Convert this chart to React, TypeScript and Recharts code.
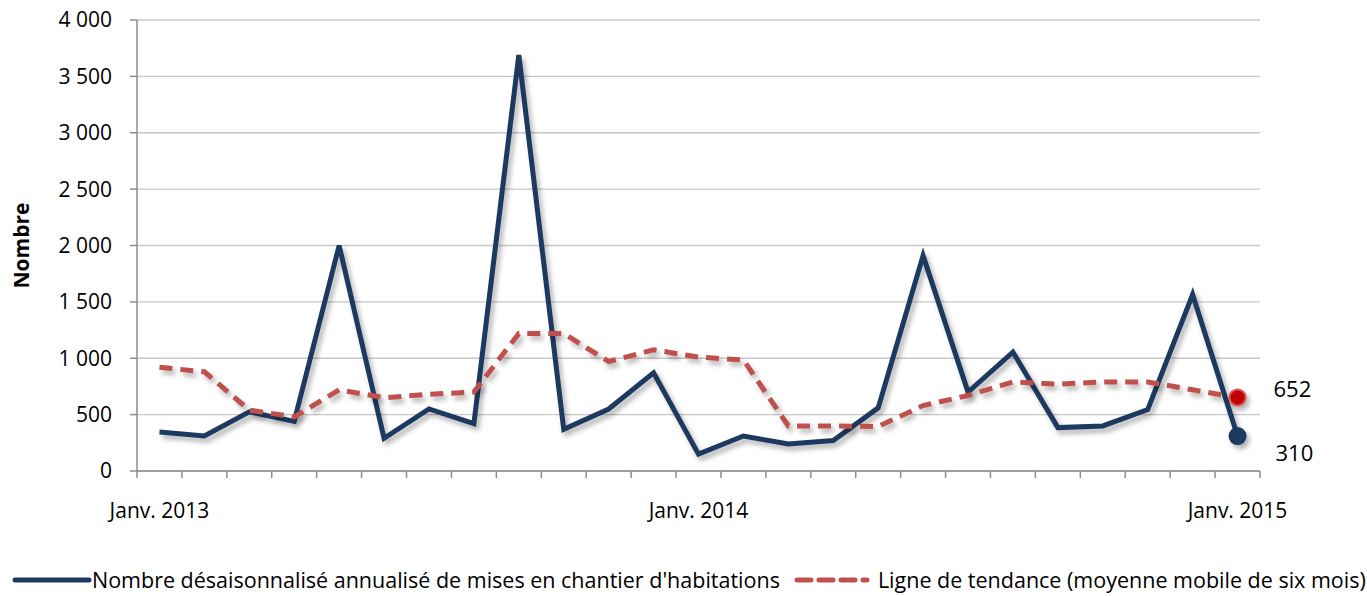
import React from 'react';
import {
  LineChart,
  Line,
  XAxis,
  YAxis,
  CartesianGrid,
  Legend,
} from 'recharts';

const months = [
  'Janv. 2013', 'Févr. 2013', 'Mars 2013', 'Avr. 2013', 'Mai 2013', 'Juin 2013',
  'Juil. 2013', 'Août 2013', 'Sept. 2013', 'Oct. 2013', 'Nov. 2013', 'Déc. 2013',
  'Janv. 2014', 'Févr. 2014', 'Mars 2014', 'Avr. 2014', 'Mai 2014', 'Juin 2014',
  'Juil. 2014', 'Août 2014', 'Sept. 2014', 'Oct. 2014', 'Nov. 2014', 'Déc. 2014',
  'Janv. 2015',
];

const mises = [
  346, 310, 525, 440, 2000, 290, 550, 420, 3690, 370, 550, 870,
  150, 310, 240, 270, 560, 1910, 700, 1055, 385, 400, 545, 1565,
  310,
];

const tendance = [
  920, 880, 540, 480, 720, 650, 680, 700, 1220, 1220, 970, 1075,
  1010, 985, 400, 400, 395, 580, 670, 790, 770, 790, 790, 720,
  652,
];

const yTicks = [0, 500, 1000, 1500, 2000, 2500, 3000, 3500, 4000];

const data = months.map((m, i) => ({ mois: m, mises: mises[i], tendance: tendance[i] }));

const BLUE = '#1d3960';
const RED = '#c0504d';
const AXIS = '#8c8c8c';
const FONT = '"Open Sans", sans-serif';
const SHADOW = 'drop-shadow(3px 4px 2.5px rgba(0,0,0,0.3))';

const W = 1367;
const H = 596;
const LEFT = 137;
const RIGHT = 107;
const BAND = (W - LEFT - RIGHT) / months.length;
const LAST = months.length - 1;

const fmt = (v: number) => String(v).replace(/\B(?=(\d{3})+(?!\d))/g, ' ');

const XTick = (props: any) => {
  const { x, y, payload, index } = props;
  const label = String(payload.value);
  return (
    <g>
      <line x1={x - BAND / 2} x2={x - BAND / 2} y1={y} y2={y + 7} stroke={AXIS} strokeWidth={1.5} />
      {index === LAST && (
        <line x1={x + BAND / 2} x2={x + BAND / 2} y1={y} y2={y + 7} stroke={AXIS} strokeWidth={1.5} />
      )}
      {label.startsWith('Janv.') && (
        <text x={x} y={y + 47} textAnchor="middle" fontSize={21} fill="#000" fontFamily={FONT}>
          {label}
        </text>
      )}
    </g>
  );
};

const lastDot = (color: string, fill: string, r: number) => (p: any) => {
  if (p.index !== LAST) return <g key={`d-${p.index}`} />;
  return (
    <circle key={`d-${p.index}`} cx={p.cx} cy={p.cy} r={r} fill={fill} stroke={color} strokeWidth={2} style={{ filter: SHADOW }} />
  );
};

const lastLabel = (dx: number, dy: number) => (p: any) => {
  if (p.index !== LAST) return <g key={`l-${p.index}`} />;
  return (
    <text key={`l-${p.index}`} x={p.x + dx} y={p.y + dy} fontSize={22} fill="#000" fontFamily={FONT}>
      {p.value}
    </text>
  );
};

const LegendBox = () => (
  <div style={{ display: 'flex', alignItems: 'center', fontFamily: FONT, fontSize: 21.5, color: '#000', whiteSpace: 'nowrap' }}>
    <svg width={80} height={10} style={{ marginLeft: 12 }}>
      <line x1={3} x2={77} y1={5} y2={5} stroke={BLUE} strokeWidth={5} strokeLinecap="round" />
    </svg>
    <span>Nombre désaisonnalisé annualisé de mises en chantier d'habitations</span>
    <svg width={76} height={10} style={{ marginLeft: 14, marginRight: 8 }}>
      <line x1={3} x2={73} y1={5} y2={5} stroke={RED} strokeWidth={5} strokeDasharray="14 8" strokeLinecap="round" />
    </svg>
    <span>Ligne de tendance (moyenne mobile de six mois)</span>
  </div>
);

const App: React.FC = () => {
  return (
    <div style={{ position: 'absolute', left: 0, top: 0, background: '#fff' }}>
      <style>{`.recharts-line-curve { filter: ${SHADOW}; }`}</style>
      <LineChart width={W} height={H} data={data} margin={{ top: 20, right: RIGHT, bottom: 0, left: 0 }}>
        <CartesianGrid vertical={false} stroke="#c8c8c8" strokeWidth={1.3} />
        <XAxis
          dataKey="mois"
          interval={0}
          height={85}
          padding={{ left: BAND / 2, right: BAND / 2 }}
          tickLine={false}
          tickSize={0}
          tickMargin={0}
          axisLine={{ stroke: AXIS, strokeWidth: 1.5 }}
          tick={<XTick />}
        />
        <YAxis
          width={LEFT}
          domain={[0, 4000]}
          ticks={yTicks}
          tickFormatter={fmt}
          tickSize={7}
          tickMargin={18}
          axisLine={{ stroke: AXIS, strokeWidth: 1.5 }}
          tickLine={{ stroke: AXIS, strokeWidth: 1.5 }}
          tick={{ fill: '#000', fontSize: 21, fontFamily: FONT }}
          label={{
            content: (p: any) => {
              const vb = p.viewBox || { y: 20, height: 451 };
              const cy = vb.y + vb.height / 2;
              return (
                <text transform={`translate(29,${cy}) rotate(-90)`} textAnchor="middle" fontSize={21} fontWeight="bold" fill="#000" fontFamily={FONT}>
                  Nombre
                </text>
              );
            },
          }}
        />
        <Legend verticalAlign="bottom" height={40} content={<LegendBox />} wrapperStyle={{ left: 0, width: W, bottom: 0, top: 565 }} />
        <Line
          dataKey="mises"
          stroke={BLUE}
          strokeWidth={5}
          strokeLinejoin="miter"
          dot={lastDot(BLUE, BLUE, 8)}
          activeDot={false}
          label={lastLabel(38, 25)}
          isAnimationActive={false}
        />
        <Line
          dataKey="tendance"
          stroke={RED}
          strokeWidth={5}
          strokeDasharray="13 8"
          dot={lastDot('#d9534f', '#c00000', 8)}
          activeDot={false}
          label={lastLabel(36, 0)}
          isAnimationActive={false}
        />
      </LineChart>
    </div>
  );
};

export default App;
